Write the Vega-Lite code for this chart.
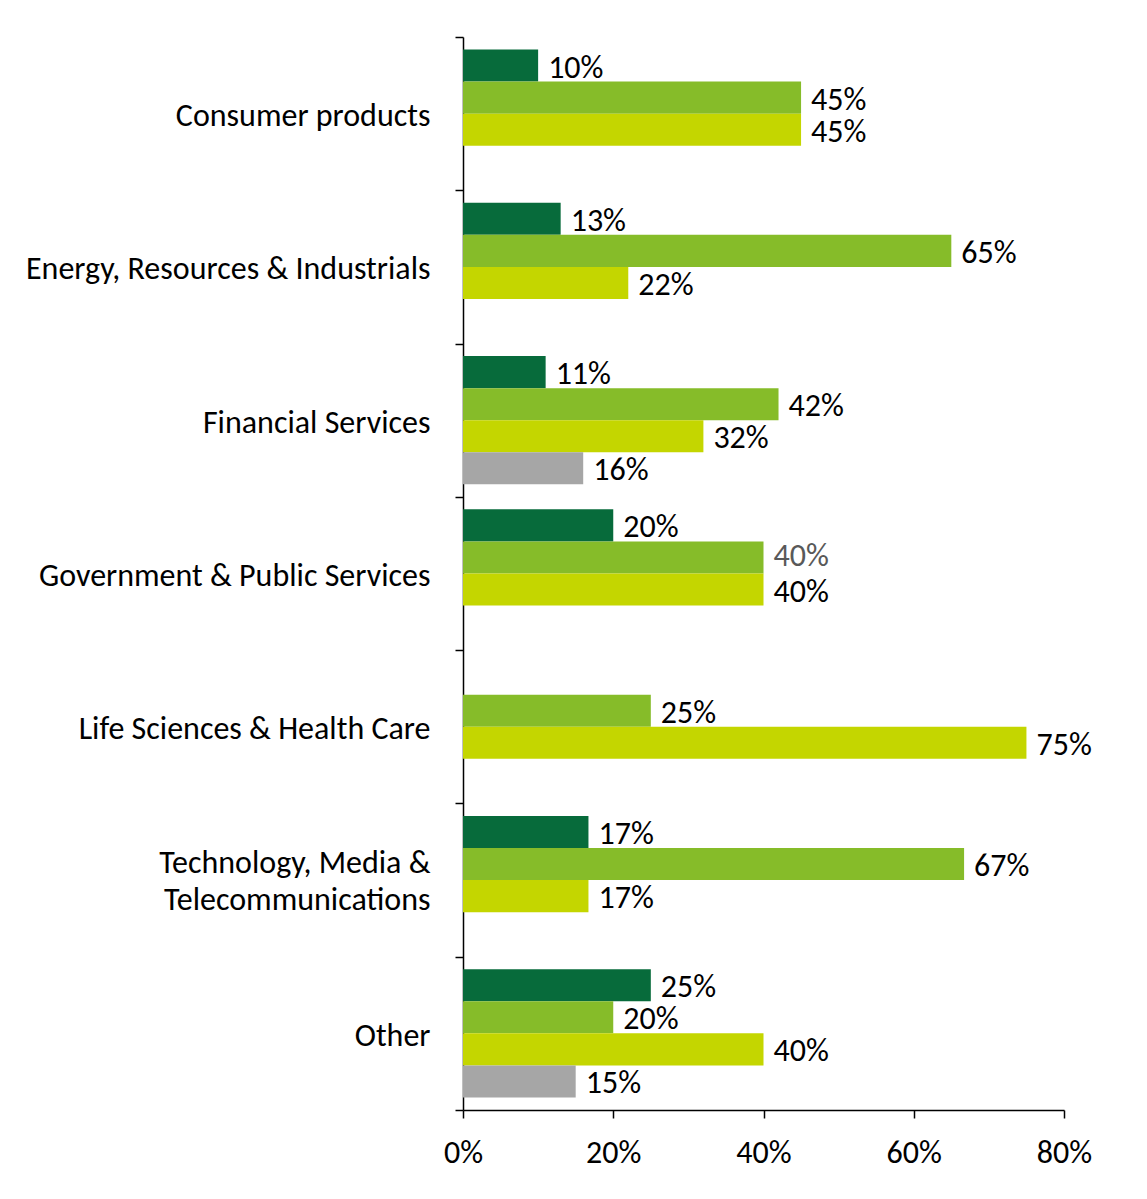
{
  "$schema": "https://vega.github.io/schema/vega-lite/v6.json",
  "width": 601,
  "height": 1073,
  "autosize": "none",
  "padding": {"left": 463, "top": 37, "right": 83, "bottom": 89},
  "background": "white",
  "config": {"view": {"stroke": null}, "font": "Carlito, Lato"},
  "data": {
    "values": [
      {"sector": "Consumer products", "series": "Series 1", "value": 0.10},
      {"sector": "Consumer products", "series": "Series 2", "value": 0.45},
      {"sector": "Consumer products", "series": "Series 3", "value": 0.45},
      {"sector": "Energy, Resources & Industrials", "series": "Series 1", "value": 0.13},
      {"sector": "Energy, Resources & Industrials", "series": "Series 2", "value": 0.65},
      {"sector": "Energy, Resources & Industrials", "series": "Series 3", "value": 0.22},
      {"sector": "Financial Services", "series": "Series 1", "value": 0.11},
      {"sector": "Financial Services", "series": "Series 2", "value": 0.42},
      {"sector": "Financial Services", "series": "Series 3", "value": 0.32},
      {"sector": "Financial Services", "series": "Series 4", "value": 0.16},
      {"sector": "Government & Public Services", "series": "Series 1", "value": 0.20},
      {"sector": "Government & Public Services", "series": "Series 2", "value": 0.40},
      {"sector": "Government & Public Services", "series": "Series 3", "value": 0.40},
      {"sector": "Life Sciences & Health Care", "series": "Series 2", "value": 0.25},
      {"sector": "Life Sciences & Health Care", "series": "Series 3", "value": 0.75},
      {"sector": "Technology, Media & Telecommunications", "series": "Series 1", "value": 0.167},
      {"sector": "Technology, Media & Telecommunications", "series": "Series 2", "value": 0.667},
      {"sector": "Technology, Media & Telecommunications", "series": "Series 3", "value": 0.167},
      {"sector": "Other", "series": "Series 1", "value": 0.25},
      {"sector": "Other", "series": "Series 2", "value": 0.20},
      {"sector": "Other", "series": "Series 3", "value": 0.40},
      {"sector": "Other", "series": "Series 4", "value": 0.15}
    ]
  },
  "encoding": {
    "y": {
      "field": "sector",
      "type": "nominal",
      "sort": ["Consumer products", "Energy, Resources & Industrials", "Financial Services", "Government & Public Services", "Life Sciences & Health Care", "Technology, Media & Telecommunications", "Other"],
      "scale": {"paddingInner": 0, "paddingOuter": 0},
      "axis": {
        "title": null,
        "tickBand": "extent",
        "tickSize": 8,
        "tickWidth": 1.5,
        "tickColor": "black",
        "domainColor": "black",
        "domainWidth": 1.5,
        "labelPadding": 25,
        "labelFontSize": 32,
        "labelColor": "black",
        "labelLimit": 600,
        "labelLineHeight": 37,
        "labelOffset": {"condition": {"test": "datum.value == 'Technology, Media & Telecommunications'", "value": -18}, "value": 2},
        "labelExpr": "datum.value == 'Technology, Media & Telecommunications' ? ['Technology, Media &\u2009', 'Telecommunications'] : datum.label"
      }
    },
    "yOffset": {
      "field": "series",
      "type": "nominal",
      "scale": {"domain": ["Series 1", "Series 2", "Series 3", "Series 4"], "paddingInner": 0, "paddingOuter": 0.39}
    },
    "x": {
      "field": "value",
      "type": "quantitative",
      "scale": {"domain": [0, 0.8], "nice": false},
      "axis": {
        "title": null,
        "format": ".0%",
        "values": [0, 0.2, 0.4, 0.6, 0.8],
        "grid": false,
        "tickSize": 8,
        "tickWidth": 1.5,
        "tickColor": "black",
        "domainColor": "black",
        "domainWidth": 1.5,
        "labelFlush": false,
        "labelPadding": 19,
        "labelFontSize": 32,
        "labelColor": "black"
      }
    }
  },
  "layer": [
    {
      "mark": {"type": "bar"},
      "encoding": {
        "color": {
          "field": "series",
          "type": "nominal",
          "scale": {"domain": ["Series 1", "Series 2", "Series 3", "Series 4"], "range": ["#076B3B", "#86BC29", "#C4D600", "#A6A6A6"]},
          "legend": null
        }
      }
    },
    {
      "transform": [{"filter": "!(datum.sector === 'Government & Public Services' && datum.series === 'Series 2')"}],
      "mark": {"type": "text", "align": "left", "baseline": "middle", "dx": 10, "dy": 2, "fontSize": 32, "color": "black"},
      "encoding": {
        "text": {"field": "value", "type": "quantitative", "format": ".0%"}
      }
    },
    {
      "transform": [{"filter": "datum.sector === 'Government & Public Services' && datum.series === 'Series 2'"}],
      "mark": {"type": "text", "align": "left", "baseline": "middle", "dx": 10, "dy": -1, "fontSize": 32, "color": "#595959"},
      "encoding": {
        "text": {"field": "value", "type": "quantitative", "format": ".0%"}
      }
    }
  ]
}
